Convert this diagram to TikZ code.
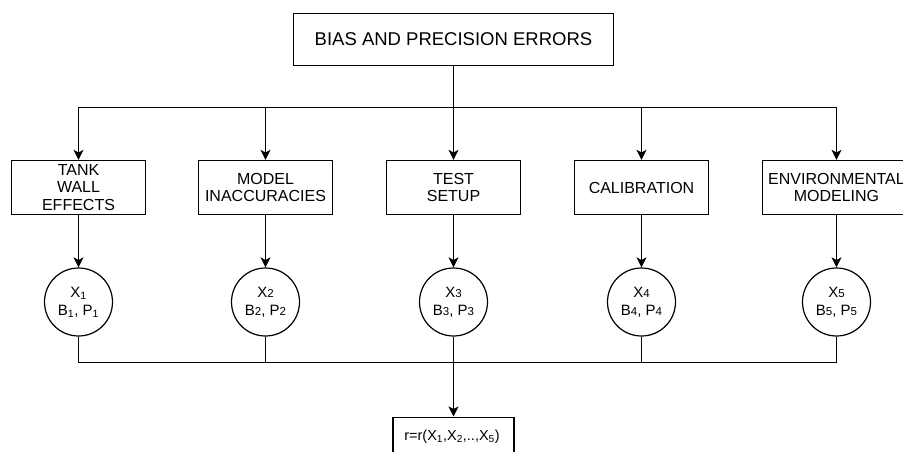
\documentclass[tikz,border=0pt]{standalone}
\usepackage{fontspec}
\setmainfont{Liberation Sans}
\usetikzlibrary{arrows.meta}
\newcommand{\sm}[1]{{\fontsize{11.5}{11.5}\selectfont #1}}
\begin{document}
\begin{tikzpicture}[x=1pt,y=-1pt,
  line width=1.2pt,
  arr/.style={-{Stealth[length=10pt,width=10pt,inset=2.5pt]}},
  titlebox/.style={draw,rectangle,minimum width=320pt,minimum height=52pt,inner sep=0pt,font=\fontsize{18.5}{21}\selectfont},
  catbox/.style={draw,rectangle,minimum width=134pt,minimum height=54pt,inner sep=0pt,align=center,font=\fontsize{16}{17.8}\selectfont},
  varcirc/.style={draw,circle,minimum size=68pt,inner sep=0pt,align=center,font=\fontsize{15}{18}\selectfont},
  resbox/.style={draw,rectangle,minimum width=121pt,minimum height=44pt,inner sep=0pt},
  restext/.style={font=\fontsize{14.5}{16}\selectfont,inner sep=0pt}
]
\useasboundingbox (0,0) rectangle (903,452);
\clip (0,0) rectangle (903,452);
\fill[white] (0,0) rectangle (903,452);

\node[titlebox] (title) at (453.5,39.5) {BIAS AND PRECISION ERRORS};

\node[catbox] (b1) at (78.5,187.5) {TANK\\WALL\\EFFECTS};
\node[catbox] (b2) at (265.5,187.5) {MODEL\\INACCURACIES};
\node[catbox] (b3) at (453.5,187.5) {TEST\\SETUP};
\node[catbox] (b4) at (641.5,187.5) {CALIBRATION};
\node[catbox,minimum width=148pt] (b5) at (836.5,187.5) {ENVIRONMENTAL\\MODELING};

\node[varcirc] (c1) at (78.5,302) {X\textsubscript{1}\\B\textsubscript{1}, P\textsubscript{1}};
\node[varcirc] (c2) at (265.5,302) {X\sm{2}\\B\sm{2}, P\sm{2}};
\node[varcirc] (c3) at (453.5,302) {X\sm{3}\\B\sm{3}, P\sm{3}};
\node[varcirc] (c4) at (641.5,302) {X\sm{4}\\B\sm{4}, P\sm{4}};
\node[varcirc] (c5) at (836.5,302) {X\sm{5}\\B\sm{5}, P\sm{5}};

\node[resbox,anchor=north] (res) at (453.5,416.5) {};
\node[restext] (rtext) at (452,437) {r=r(X\textsubscript{1},X\textsubscript{2},..,X\textsubscript{5})};

\coordinate (hub) at (453.5,107.5);
\coordinate (hub2) at (453.5,362.5);

\draw (title.south) -- (hub);
\draw[arr] (hub) -| (b1.north);
\draw[arr] (hub) -| (b2.north);
\draw[arr] (hub) -- (b3.north);
\draw[arr] (hub) -| (b4.north);
\draw[arr] (hub) -| (b5.north);

\foreach \i in {1,...,5} {
  \draw[arr] (b\i.south) -- (c\i.north);
}
\draw (c1.south) |- (hub2);
\draw (c2.south) |- (hub2);
\draw (c4.south) |- (hub2);
\draw (c5.south) |- (hub2);
\draw[arr] (c3.south) -- (res.north);
\end{tikzpicture}
\end{document}
